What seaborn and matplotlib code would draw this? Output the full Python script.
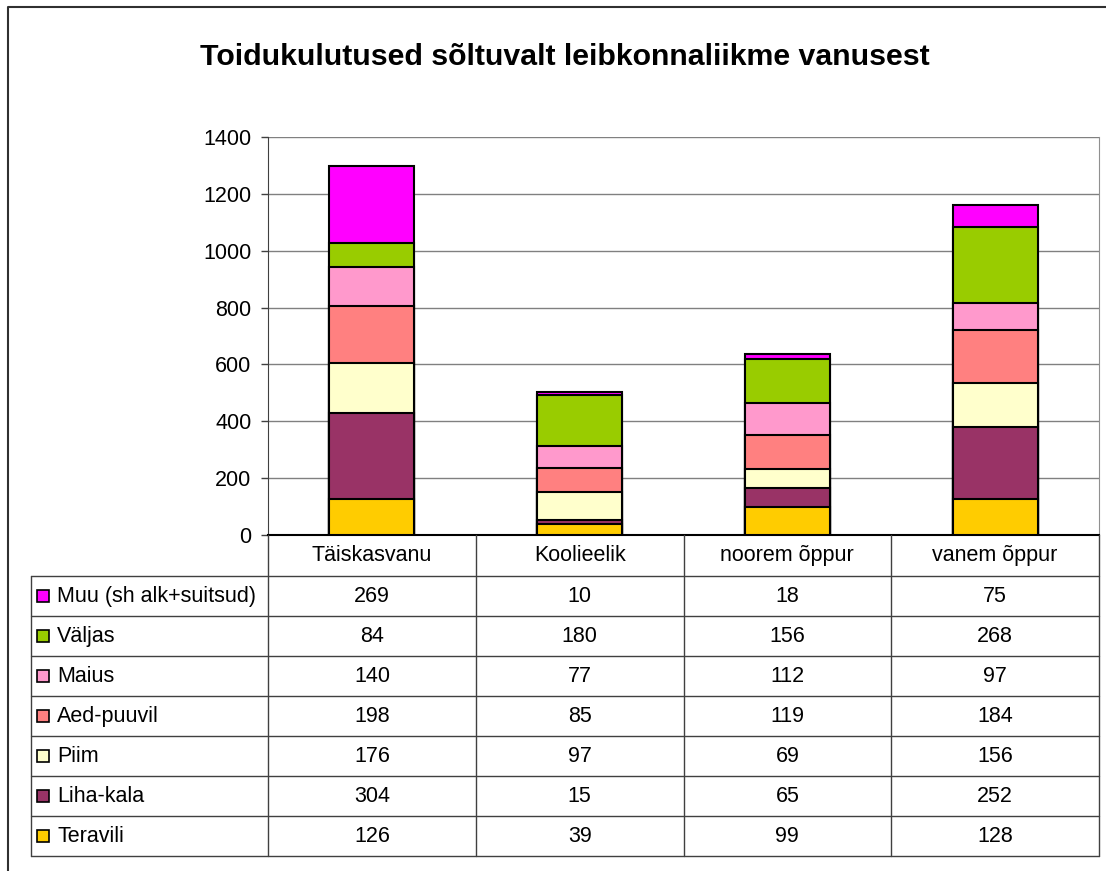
import matplotlib
matplotlib.use("Agg")
import matplotlib.pyplot as plt
import matplotlib.transforms as mtransforms
import numpy as np
import seaborn as sns

# andmed tabelist
vanused = ["Täiskasvanu", "Koolieelik", "noorem õppur", "vanem õppur"]
kategooriad = ["Teravili", "Liha-kala", "Piim", "Aed-puuvil", "Maius", "Väljas", "Muu (sh alk+suitsud)"]
teravili = [126, 39, 99, 128]
liha_kala = [304, 15, 65, 252]
piim = [176, 97, 69, 156]
aed_puuvil = [198, 85, 119, 184]
maius = [140, 77, 112, 97]
valjas = [84, 180, 156, 268]
muu = [269, 10, 18, 75]
varvid = ["#FFCC00", "#993366", "#FFFFCC", "#FF8080", "#FF99CC", "#99CC00", "#FF00FF"]

seeriad = [teravili, liha_kala, piim, aed_puuvil, maius, valjas, muu]
kumul = np.cumsum(np.array(seeriad), axis=0)

sns.set_style("white")
plt.rcParams['font.family'] = ['Liberation Sans', 'DejaVu Sans']
plt.rcParams['text.color'] = 'black'
plt.rcParams['ytick.color'] = 'black'

W, H = 1106, 871
fig = plt.figure(figsize=(W / 100, H / 100), dpi=100)

def fx(px):
    return px / W

def fy(py):
    return 1 - py / H

ax = fig.add_axes([fx(268), fy(535), fx(1099) - fx(268), fy(137) - fy(535)])

# virnastatud tulbad: joonistame kumulatiivsed summad ülevalt alla
for i in range(len(seeriad) - 1, -1, -1):
    sns.barplot(x=vanused, y=kumul[i], color=varvid[i], edgecolor="black",
                linewidth=1.5, width=0.41, saturation=1, ax=ax, zorder=3)

ax.set_ylim(0, 1400)
ax.set_xlim(-0.5, len(vanused) - 0.5)
ax.set_yticks(range(0, 1401, 200))
ax.yaxis.grid(True, color="#808080", linewidth=1)
ax.set_axisbelow(True)
ax.set_xticks([])
ax.set_xlabel("")
ax.set_ylabel("")
ax.tick_params(axis="y", which="both", left=True, length=5, width=1, color="#404040",
               labelsize=15.5, labelcolor="black", pad=7)
ax.spines["top"].set_visible(False)
ax.spines["left"].set_color("#404040")
ax.spines["right"].set_color("#909090")
ax.spines["bottom"].set_color("black")
ax.spines["bottom"].set_linewidth(1.5)

# pealkiri
fig.text(fx(565), fy(57), "Toidukulutused sõltuvalt leibkonnaliikme vanusest",
         ha="center", va="center", fontsize=21.8, fontweight="bold", color="black")

# andmetabel
tr = mtransforms.blended_transform_factory(ax.transData, fig.transFigure)
joon = "#404040"
rida_h = 40
tabel_top = 576
tabel_bottom = tabel_top + rida_h * len(seeriad)

# horisontaalsed jooned
for k in range(len(seeriad) + 1):
    y = tabel_top + k * rida_h
    fig.add_artist(plt.Line2D([fx(31), fx(1099)], [fy(y), fy(y)], transform=fig.transFigure,
                              color=joon, linewidth=1))
# vertikaalsed jooned
fig.add_artist(plt.Line2D([fx(31), fx(31)], [fy(tabel_top), fy(tabel_bottom)],
                          transform=fig.transFigure, color=joon, linewidth=1))
for j in range(len(vanused) + 1):
    xs = j - 0.5
    fig.add_artist(plt.Line2D([xs, xs], [fy(535), fy(tabel_bottom)], transform=tr,
                              color=joon, linewidth=1))

# päis
for j, v in enumerate(vanused):
    fig.text(j, fy(555), v, transform=tr, ha="center", va="center", fontsize=15.5)

# read (Muu ülal, Teravili all)
for r, i in enumerate(range(len(seeriad) - 1, -1, -1)):
    yc = tabel_top + r * rida_h + rida_h / 2
    fig.add_artist(plt.Rectangle((fx(37), fy(yc + 6)), fx(12), fy(0) - fy(12),
                                 transform=fig.transFigure, facecolor=varvid[i],
                                 edgecolor="black", linewidth=1.2))
    fig.text(fx(57), fy(yc), kategooriad[i], ha="left", va="center", fontsize=15.5)
    for j in range(len(vanused)):
        fig.text(j, fy(yc), str(seeriad[i][j]), transform=tr, ha="center", va="center",
                 fontsize=15.5)

# diagrammi raam
fig.add_artist(plt.Line2D([fx(8), fx(8), fx(W + 5)], [fy(H + 5), fy(7), fy(7)],
                          transform=fig.transFigure, color="#303030", linewidth=1.5))

plt.savefig("out.png", dpi=100)
